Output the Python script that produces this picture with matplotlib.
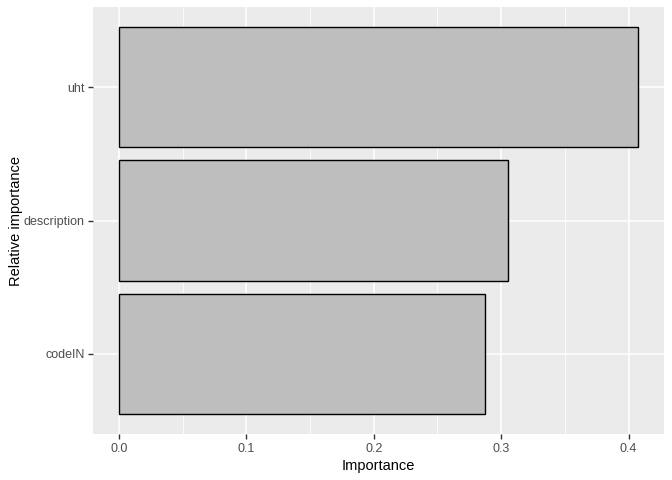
import matplotlib
matplotlib.use("Agg")
import matplotlib.pyplot as plt
from matplotlib.ticker import MultipleLocator

plt.rcParams["font.family"] = ["Liberation Sans", "DejaVu Sans"]

# Feature importances (bottom to top)
features = ["codeIN", "description", "uht"]
importance = [0.2874, 0.3054, 0.4074]

fig = plt.figure(figsize=(6.72, 4.8), dpi=100)
ax = fig.add_axes([93 / 672, 46 / 480, 571 / 672, 427 / 480])
ax.set_facecolor("#ebebeb")

ypos = list(range(1, len(features) + 1))
ax.barh(ypos, importance, height=0.9, color="#bebebe", edgecolor="black",
        linewidth=1.0, zorder=3)

# ggplot-like grid
ax.xaxis.set_major_locator(MultipleLocator(0.1))
ax.xaxis.set_minor_locator(MultipleLocator(0.05))
ax.grid(which="major", color="white", linewidth=1.1, zorder=0)
ax.grid(which="minor", axis="x", color="white", linewidth=0.55, zorder=0)
ax.set_axisbelow(True)

xmax = max(importance)
ax.set_xlim(-0.05 * xmax, 1.05 * xmax)
ax.set_ylim(0.4, len(features) + 0.6)
ax.set_yticks(ypos)
ax.set_yticklabels(features)
ax.set_xticklabels([f"{v:.1f}" for v in ax.get_xticks()])
ax.set_xlim(-0.05 * xmax, 1.05 * xmax)

for s in ax.spines.values():
    s.set_visible(False)
ax.tick_params(which="major", length=3.7, width=1.0, color="#333333",
               labelcolor="#4d4d4d", labelsize=9, pad=2.5)
ax.tick_params(which="minor", length=0)

ax.set_xlabel("Importance", fontsize=10.5, color="black", labelpad=3)
ax.set_ylabel("Relative importance", fontsize=10.5, color="black", labelpad=0)

fig.savefig("out.png", dpi=100)
